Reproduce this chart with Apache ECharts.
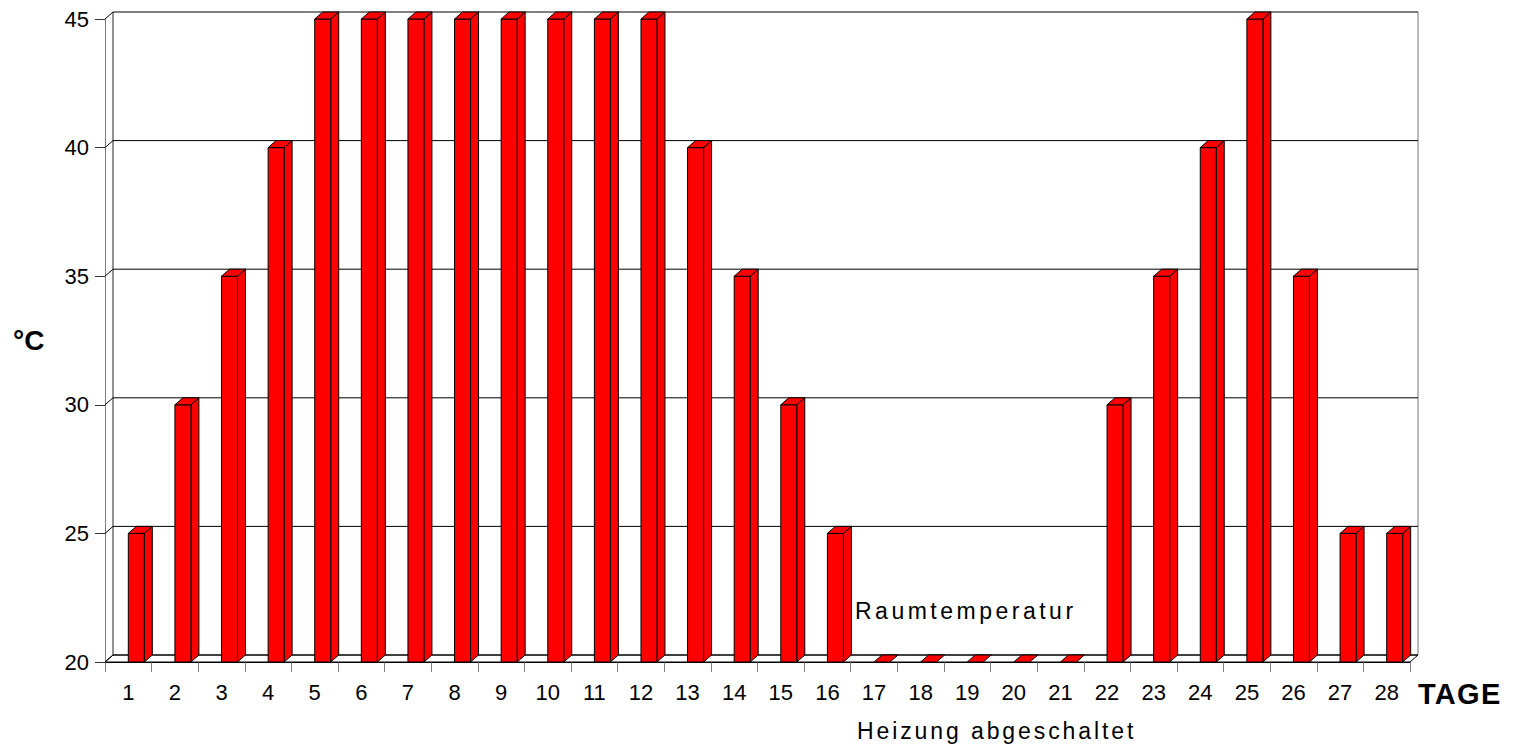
<!DOCTYPE html>
<html>
<head>
<meta charset="utf-8">
<script src="https://cdn.jsdelivr.net/npm/echarts@6/dist/echarts.min.js"></script>
<style>
html,body{margin:0;padding:0;background:#fff;}
#main{width:1515px;height:750px;}
</style>
</head>
<body>
<div id="main"></div>
<script>
// ---- data ----
const days = ['1','2','3','4','5','6','7','8','9','10','11','12','13','14','15','16','17','18','19','20','21','22','23','24','25','26','27','28'];
const temps = [25,30,35,40,45,45,45,45,45,45,45,45,40,35,30,25,20,20,20,20,20,30,35,40,45,35,25,25];
const yTicks = [20,25,30,35,40,45];
const yMin = 20, yMax = 45, yStep = 5;
const yTitle = '°C';
const xTitle = 'TAGE';
const noteInside = 'Raumtemperatur';
const noteBelow = 'Heizung abgeschaltet';

// ---- styling constants ----
const DX = 8, DY = 7;          // 3D depth offset in px
const BAR_RATIO = 0.343;       // bar width / category width
const RED = '#ff0000';
const FONT = '"Liberation Sans", Arial, sans-serif';

const chart = echarts.init(document.getElementById('main'), null, {renderer: 'svg'});

function frameItem(params, api) {
  const cs = params.coordSys;
  const v = api.value(1);
  const y = api.coord([0, v])[1];
  const x = cs.x, W = cs.width;
  const children = [];
  if (params.dataIndex === 0) {
    const yb = y;
    const yt = api.coord([0, yMax])[1];
    children.push({type:'polygon', shape:{points:[[x,yb],[x+W,yb],[x+W+DX,yb-DY],[x+DX,yb-DY]]},
      style:{fill:'#fff', stroke:'#000', lineWidth:1}});
    children.push({type:'line', shape:{x1:x+DX,y1:yt-DY,x2:x+DX,y2:yb-DY}, style:{stroke:'#222', lineWidth:1}});
    children.push({type:'line', shape:{x1:x+W+DX,y1:yt-DY,x2:x+W+DX,y2:yb-DY}, style:{stroke:'#777', lineWidth:1}});
  }
  children.push({type:'polyline', shape:{points:[[x,y],[x+DX,y-DY],[x+W+DX,y-DY]]},
    style:{stroke:'#000', lineWidth:1, fill:null}});
  return {type:'group', children};
}

function barItem(params, api) {
  const i = api.value(0), v = api.value(1);
  const base = api.coord([i, yMin]);
  const top = api.coord([i, v]);
  const bw = api.size([1, 0])[0] * BAR_RATIO;
  const x0 = base[0], x1 = x0 + bw;
  const yb = base[1], yt = top[1];
  const st = {fill: RED, stroke:'#000', lineWidth:1, lineJoin:'miter'};
  const children = [];
  if (yb - yt > 0.5) {
    children.push({type:'polygon', shape:{points:[[x1,yt],[x1+DX,yt-DY],[x1+DX,yb-DY],[x1,yb]]}, style:st});
    children.push({type:'rect', shape:{x:x0, y:yt, width:bw, height:yb-yt}, style:st});
  }
  children.push({type:'polygon', shape:{points:[[x0,yt],[x0+DX,yt-DY],[x1+DX,yt-DY],[x1,yt]]}, style:st});
  return {type:'group', children};
}

const option = {
  animation: false,
  backgroundColor: '#fff',
  textStyle: {fontFamily: FONT},
  grid: {left: 105, top: 19, width: 1305, height: 643, containLabel: false},
  xAxis: {
    type: 'category',
    data: days,
    boundaryGap: true,
    axisLine: {show: true, lineStyle: {color: '#000', width: 1}},
    axisTick: {show: true, length: 10, interval: 0, lineStyle: {color: '#808080'}},
    axisLabel: {fontSize: 22, color: '#000', margin: 19, interval: 0, fontFamily: FONT},
    splitLine: {show: false}
  },
  yAxis: {
    type: 'value',
    min: yMin, max: yMax, interval: yStep,
    axisLine: {show: true, lineStyle: {color: '#808080', width: 1}},
    axisTick: {show: true, length: 10, lineStyle: {color: '#333'}},
    axisLabel: {fontSize: 22, color: '#000', margin: 16, fontFamily: FONT},
    splitLine: {show: false}
  },
  graphic: [
    {type:'text', x: 13, y: 340, style:{text: yTitle, font: 'bold 28px ' + FONT, fill:'#000', textVerticalAlign:'middle', textAlign:'left'}},
    {type:'text', x: 1418, y: 694, style:{text: xTitle, font: 'bold 29px ' + FONT, fill:'#000', textVerticalAlign:'middle', textAlign:'left'}},
    {type:'text', x: 855, y: 611, style:{text: noteInside, font: '23px ' + FONT, fill:'#000', textVerticalAlign:'middle', textAlign:'left'}},
    {type:'text', x: 857, y: 731, style:{text: noteBelow, font: '23px ' + FONT, fill:'#000', textVerticalAlign:'middle', textAlign:'left'}}
  ],
  series: [
    {type:'custom', name:'frame', renderItem: frameItem, data: yTicks.map(v => [0, v]), z: 1, silent: true},
    {type:'custom', name:'Temperatur', renderItem: barItem, data: temps.map((v, i) => [i, v]), z: 3, silent: true}
  ]
};
chart.setOption(option);

function spaceText() {
  document.querySelectorAll('#main text').forEach(t => {
    if (t.textContent === noteInside) t.setAttribute('letter-spacing', '3.5');
    if (t.textContent === noteBelow) t.setAttribute('letter-spacing', '2.9');
    if (t.textContent === xTitle) t.setAttribute('letter-spacing', '1.3');
  });
}
chart.on('finished', spaceText);
spaceText();
</script>
</body>
</html>
